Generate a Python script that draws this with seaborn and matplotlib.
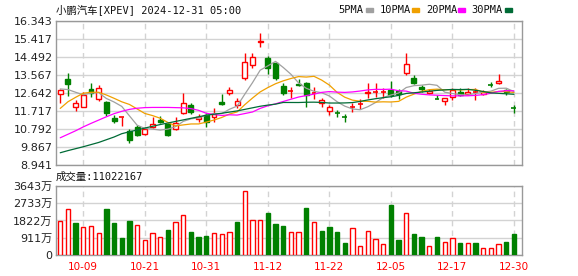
import matplotlib
matplotlib.use("Agg")
import numpy as np
import pandas as pd
import matplotlib.pyplot as plt
from matplotlib.patches import Rectangle
import seaborn as sns

# ---------------- data ----------------
dates = ["10-04", "10-07", "10-08", "10-09", "10-10", "10-11", "10-14", "10-15", "10-16", "10-17",
         "10-18", "10-21", "10-22", "10-23", "10-24", "10-25", "10-28", "10-29", "10-30", "10-31",
         "11-01", "11-04", "11-05", "11-06", "11-07", "11-08", "11-11", "11-12", "11-13", "11-14",
         "11-15", "11-18", "11-19", "11-20", "11-21", "11-22", "11-25", "11-26", "11-27", "11-29",
         "12-02", "12-03", "12-04", "12-05", "12-06", "12-09", "12-10", "12-11", "12-12", "12-13",
         "12-16", "12-17", "12-18", "12-19", "12-20", "12-23", "12-24", "12-26", "12-27", "12-30"]

opens = [12.574, 13.361, 11.906, 11.937, 12.831, 12.317, 12.163, 11.356, 11.38, 10.703,
         10.908, 10.533, 10.878, 11.253, 11.047, 10.790, 11.597, 12.024, 11.32, 11.510,
         11.423, 12.163, 12.657, 12.024, 13.397, 14.081, 15.25, 14.425, 14.168, 13.001,
         12.74, 13.12, 13.17, 12.61, 12.112, 11.731, 11.61, 11.40, 11.89, 12.06,
         12.626, 12.665, 12.68, 12.795, 12.76, 13.654, 13.397, 12.965, 12.626, 12.335,
         12.23, 12.451, 12.708, 12.574, 12.70, 12.574, 13.065, 13.14, 12.795, 11.865]
closes = [12.795, 13.104, 12.112, 12.523, 12.657, 12.883, 11.628, 11.202, 11.40, 10.225,
          10.482, 10.790, 11.032, 11.150, 10.482, 11.114, 12.143, 11.68, 11.423, 11.166,
          11.546, 12.091, 12.795, 12.245, 14.22, 14.508, 15.30, 13.911, 13.397, 12.657,
          12.76, 13.07, 12.538, 12.626, 12.281, 11.937, 11.597, 11.392, 11.906, 12.075,
          12.708, 12.677, 12.69, 12.538, 12.59, 14.132, 13.14, 12.831, 12.76, 12.32,
          12.369, 12.795, 12.538, 12.677, 12.71, 12.708, 13.053, 13.274, 12.708, 11.855]
highs = [12.847, 13.685, 12.281, 12.708, 13.140, 13.053, 12.245, 11.510, 11.40, 10.790,
         10.996, 10.893, 11.423, 11.459, 11.083, 11.392, 12.626, 12.112, 11.561, 11.597,
         11.855, 12.59, 12.934, 12.369, 14.682, 14.682, 15.71, 14.559, 14.22, 13.14,
         12.965, 13.35, 13.222, 12.934, 12.369, 12.024, 11.767, 11.561, 12.112, 12.317,
         13.14, 13.14, 12.90, 13.274, 12.83, 14.713, 13.567, 13.053, 12.847, 12.538,
         12.369, 12.90, 12.883, 12.883, 12.883, 12.795, 13.222, 13.618, 12.83, 12.024]
lows = [12.143, 12.487, 11.731, 11.92, 12.451, 12.230, 11.459, 11.083, 10.960, 10.086,
        10.43, 10.482, 10.826, 11.083, 10.43, 10.739, 11.561, 11.561, 11.166, 10.91,
        11.166, 12.024, 12.538, 11.855, 13.31, 13.911, 15.02, 13.603, 13.31, 12.538,
        12.369, 12.98, 11.937, 12.317, 11.937, 11.51, 11.423, 11.166, 11.68, 11.803,
        12.369, 12.451, 12.38, 12.451, 12.317, 13.567, 13.104, 12.708, 12.59, 12.31,
        12.024, 12.28, 12.487, 12.538, 12.281, 12.538, 12.934, 13.104, 12.538, 11.597]

ma5 = [12.85, 12.82, 12.68, 12.55, 12.638, 12.656, 12.361, 12.179, 11.954, 11.468,
       10.987, 10.820, 10.786, 10.736, 10.787, 10.914, 11.184, 11.314, 11.368, 11.505,
       11.592, 11.581, 11.804, 11.969, 12.579, 13.172, 13.814, 14.037, 14.267, 13.955,
       13.605, 13.159, 12.884, 12.730, 12.655, 12.490, 12.196, 11.967, 11.823, 11.781,
       11.936, 12.152, 12.411, 12.538, 12.641, 12.925, 13.018, 13.046, 13.091, 13.037,
       12.684, 12.615, 12.556, 12.540, 12.616, 12.684, 12.735, 12.882, 12.889, 12.720]
ma10 = [11.85, 12.19, 12.42, 12.63, 12.68, 12.68, 12.54, 12.37, 12.19, 12.053,
        11.822, 11.590, 11.482, 11.345, 11.127, 10.951, 11.002, 11.050, 11.052, 11.146,
        11.253, 11.383, 11.559, 11.669, 12.042, 12.382, 12.697, 12.921, 13.118, 13.267,
        13.388, 13.486, 13.461, 13.499, 13.305, 13.048, 12.677, 12.426, 12.276, 12.218,
        12.213, 12.174, 12.189, 12.180, 12.211, 12.431, 12.585, 12.729, 12.814, 12.839,
        12.805, 12.817, 12.801, 12.815, 12.826, 12.684, 12.675, 12.719, 12.714, 12.668]
ma20 = [10.34, 10.52, 10.70, 10.90, 11.08, 11.25, 11.42, 11.58, 11.70, 11.80,
        11.86, 11.89, 11.90, 11.90, 11.90, 11.89, 11.88, 11.84, 11.75, 11.600,
        11.537, 11.486, 11.521, 11.507, 11.585, 11.666, 11.850, 11.985, 12.085, 12.207,
        12.321, 12.435, 12.510, 12.584, 12.674, 12.715, 12.687, 12.673, 12.697, 12.743,
        12.801, 12.830, 12.825, 12.839, 12.758, 12.739, 12.631, 12.577, 12.545, 12.528,
        12.509, 12.495, 12.495, 12.498, 12.519, 12.557, 12.630, 12.724, 12.764, 12.753]
ma30 = [9.57, 9.68, 9.78, 9.88, 9.99, 10.10, 10.24, 10.38, 10.55, 10.65,
        10.74, 10.84, 10.93, 11.02, 11.10, 11.18, 11.26, 11.34, 11.42, 11.50,
        11.55, 11.60, 11.66, 11.72, 11.80, 11.88, 11.96, 12.02, 12.07, 12.155,
        12.154, 12.153, 12.167, 12.171, 12.158, 12.127, 12.126, 12.132, 12.149, 12.210,
        12.285, 12.348, 12.403, 12.449, 12.519, 12.620, 12.653, 12.692, 12.736, 12.775,
        12.802, 12.826, 12.817, 12.831, 12.781, 12.721, 12.646, 12.625, 12.602, 12.575]

volume = [1786, 2416, 1698, 1471, 1523, 1156, 2416, 1698, 893, 1786,
          1576, 788, 1156, 946, 1313, 1733, 2101, 1226, 946, 998,
          1156, 1103, 1208, 1751, 3362, 1839, 1839, 2224, 1646, 1523,
          1208, 1208, 2469, 1733, 1261, 1471, 1208, 630, 1401, 473,
          1243, 840, 578, 2627, 788, 2206, 1103, 946, 455, 946,
          683, 876, 630, 630, 630, 350, 350, 560, 683, 1103]
vol_up = [1, 1, 0, 1, 1, 1, 0, 0, 0, 0,
          1, 1, 1, 1, 0, 1, 1, 0, 0, 0,
          1, 1, 1, 0, 1, 1, 1, 0, 0, 0,
          1, 1, 0, 1, 0, 0, 0, 0, 1, 1,
          1, 1, 1, 0, 0, 1, 0, 0, 1, 0,
          1, 1, 0, 1, 0, 1, 1, 1, 0, 0]

price_ticks = ["8.941", "9.867", "10.792", "11.717", "12.642", "13.567", "14.492", "15.417", "16.343"]
vol_ticks = [0, 911, 1822, 2733, 3643]
vol_tick_labels = ["0", "911万", "1822万", "2733万", "3643万"]
label_dates = ["10-09", "10-21", "10-31", "11-12", "11-22", "12-05", "12-17", "12-30"]
ma_names = ["5PMA", "10PMA", "20PMA", "30PMA"]
title = "小鹏汽车[XPEV] 2024-12-31 05:00"
vol_title = "成交量:11022167"

# ---------------- style ----------------
sns.set_style("white")
plt.rcParams["font.family"] = ["DejaVu Sans", "Noto Sans CJK SC"]
MONO = ["DejaVu Sans Mono", "Noto Sans CJK SC"]

RED = "#ff0000"
GREEN = "#008000"
ma_colors = ["#a0a0a0", "#f0a000", "#ff00ff", "#006b36"]
GRID = "#d3d3d3"
SPINE = "#999999"

W, H = 578, 276
fig = plt.figure(figsize=(W / 100, H / 100), dpi=100)
ax = fig.add_axes([56 / W, 1 - 165 / H, 466 / W, 144 / H])
axv = fig.add_axes([56 / W, 1 - 255 / H, 466 / W, 69 / H])

df = pd.DataFrame({"date": dates, "open": opens, "close": closes, "high": highs, "low": lows,
                   "ma5": ma5, "ma10": ma10, "ma20": ma20, "ma30": ma30,
                   "volume": volume, "vol_up": vol_up})
df["i"] = np.arange(len(df))

ymin = float(price_ticks[0])
ymax = float(price_ticks[-1])
yt = np.linspace(ymin, ymax, len(price_ticks))
label_idx = [dates.index(d) for d in label_dates]

for a in (ax, axv):
    for s in a.spines.values():
        s.set_color(SPINE)
        s.set_linewidth(1.0)
    for xi in label_idx:
        a.axvline(xi, color=GRID, lw=1.0, ls=(0, (4, 3)), zorder=0)
    a.tick_params(length=0, labelsize=8, colors="#222222")

ax.set_ylim(ymin, ymax)
ax.set_yticks(yt)
ax.set_yticklabels(price_ticks)
ax.tick_params(axis="y", pad=2.5)
ax.set_xticks([])
for v in yt:
    ax.axhline(v, color=GRID, lw=1.0, zorder=0)

# candles
bw = 0.64
for r in df.itertuples():
    up = r.close >= r.open
    c = RED if up else GREEN
    ax.vlines(r.i, r.low, r.high, color=c, lw=1.0, zorder=2)
    if abs(r.close - r.open) < 0.03:
        ax.hlines(r.close, r.i - bw / 2, r.i + bw / 2, color=c, lw=1.2, zorder=3)
    else:
        lo, hi = min(r.open, r.close), max(r.open, r.close)
        ax.bar(r.i, hi - lo, bottom=lo, width=bw, facecolor="white" if up else GREEN,
               edgecolor=c, linewidth=1.0, zorder=3)

# moving averages
for col, c in zip(["ma5", "ma10", "ma20", "ma30"], ma_colors):
    sns.lineplot(data=df, x="i", y=col, ax=ax, color=c, lw=0.9, zorder=4, legend=False)
ax.set_xlabel("")
ax.set_ylabel("")
ax.set_xlim(-0.55, len(df) + 0.05)

# volume
axv.set_ylim(0, vol_ticks[-1])
axv.set_yticks(vol_ticks)
axv.set_yticklabels(vol_tick_labels)
axv.tick_params(axis="y", pad=2.5)
for v in vol_ticks:
    axv.axhline(v, color=GRID, lw=1.0, zorder=0)
vw = 0.56
for r in df.itertuples():
    if r.vol_up:
        axv.bar(r.i, r.volume, width=vw, facecolor="white", edgecolor=RED, linewidth=1.0, zorder=3)
    else:
        axv.bar(r.i, r.volume, width=vw, facecolor=GREEN, edgecolor=GREEN, linewidth=1.0, zorder=3)
axv.set_xticks(label_idx)
axv.set_xticklabels(label_dates, fontsize=7.5)
axv.tick_params(axis="x", colors=RED, pad=5)
axv.set_xlim(-0.55, len(df) + 0.05)

# texts
fig.text(56 / W, 1 - 10 / H, title, fontsize=7.5, va="center", ha="left",
         family=MONO, color="#111111")
fig.text(56 / W, 1 - 177 / H, vol_title, fontsize=7.5, va="center", ha="left",
         family=MONO, color="#111111")

leg_text_x = [338, 380, 426, 471]
leg_mark_x = [366, 412, 458, 505]
for name, c, tx, mx in zip(ma_names, ma_colors, leg_text_x, leg_mark_x):
    fig.text(tx / W, 1 - 10 / H, name, fontsize=7.5, va="center", ha="left",
             family=MONO, color="#111111")
    fig.patches.append(Rectangle((mx / W, 1 - 11.5 / H), 7 / W, 3 / H,
                                 transform=fig.transFigure, color=c, figure=fig))

fig.savefig("out.png", dpi=100)
